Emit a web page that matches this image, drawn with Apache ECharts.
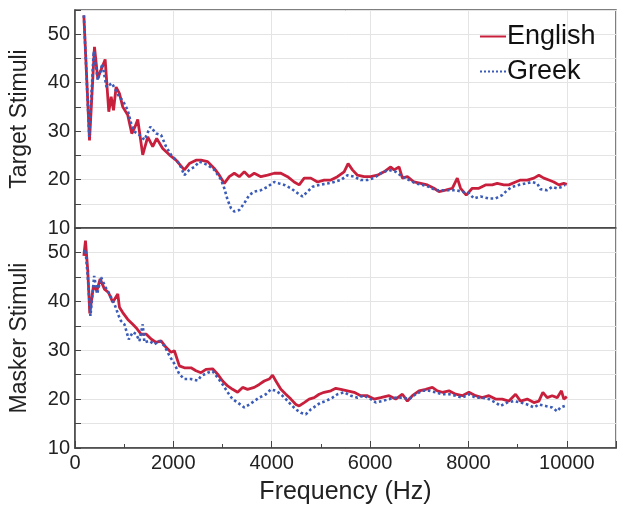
<!DOCTYPE html>
<html>
<head>
<meta charset="utf-8">
<script src="https://cdn.jsdelivr.net/npm/echarts@6/dist/echarts.min.js"></script>
<style>
    html, body { margin: 0; padding: 0; background: #fff; }
    #main { width: 624px; height: 515px; }
</style>
</head>
<body>
<div id="main"></div>
<script>
// [frequency (Hz), value]
var targetEnglish = [[180,53.9],[295,28.1],[396,47.4],[463,40.9],[613,44.8],[687,34.0],[735,37.1],[783,34.3],[836,39.1],[903,37.8],[971,35.0],[1073,33.3],[1154,29.5],[1221,30.9],[1276,32.4],[1377,25.1],[1479,28.8],[1580,26.8],[1661,28.5],[1783,26.4],[1919,25.1],[2054,24.0],[2223,22.0],[2325,23.3],[2460,24.0],[2562,24.0],[2698,23.7],[2832,22.3],[2934,20.9],[3036,19.2],[3137,20.6],[3239,21.3],[3340,20.6],[3442,21.6],[3543,20.6],[3645,21.3],[3780,20.6],[3916,20.9],[4051,21.3],[4186,21.3],[4322,20.6],[4457,19.5],[4558,18.9],[4660,20.3],[4795,20.3],[4931,19.5],[5066,19.9],[5202,19.9],[5336,20.6],[5472,21.6],[5553,23.3],[5641,22.0],[5743,20.9],[5878,20.6],[6013,20.6],[6149,20.9],[6284,21.6],[6420,22.6],[6487,22.0],[6589,22.6],[6657,20.3],[6758,20.6],[6893,19.5],[7029,19.2],[7164,18.9],[7299,18.2],[7401,17.5],[7536,17.8],[7672,18.2],[7773,20.3],[7840,18.2],[7955,16.8],[8077,18.2],[8212,18.2],[8348,18.9],[8483,18.9],[8585,19.2],[8720,18.9],[8822,18.9],[8958,19.5],[9059,19.9],[9195,19.9],[9330,20.3],[9432,20.9],[9533,20.3],[9635,19.9],[9736,19.5],[9838,18.9],[9939,19.2],[10000,19.0]];
var targetGreek = [[180,53.9],[290,28.8],[380,46.5],[463,40.5],[555,43.9],[640,39.1],[750,39.9],[903,37.0],[971,36.3],[1073,34.3],[1140,31.6],[1208,29.9],[1310,29.2],[1411,28.2],[1533,30.9],[1650,29.5],[1750,29.2],[1852,26.8],[1953,25.1],[2122,23.3],[2223,20.9],[2325,22.0],[2427,22.6],[2528,23.7],[2698,23.0],[2832,22.0],[2968,20.0],[3036,18.2],[3103,15.8],[3170,14.1],[3239,13.4],[3340,13.7],[3442,15.1],[3543,16.8],[3645,17.5],[3780,17.8],[3916,18.5],[4051,19.5],[4152,19.2],[4254,18.9],[4389,18.2],[4525,17.2],[4626,16.5],[4727,17.5],[4829,18.5],[4964,18.9],[5134,19.2],[5270,19.5],[5405,19.9],[5540,20.9],[5675,20.6],[5810,19.9],[5946,19.9],[6081,20.3],[6216,21.3],[6386,22.0],[6521,21.6],[6657,20.6],[6792,19.9],[6928,19.2],[7063,18.9],[7198,18.5],[7333,17.8],[7469,17.8],[7604,17.8],[7740,17.8],[7875,17.5],[8010,17.2],[8111,16.1],[8246,16.5],[8416,16.1],[8551,16.1],[8687,16.8],[8788,17.8],[8890,18.5],[9025,18.9],[9161,19.2],[9296,19.5],[9398,19.2],[9465,18.0],[9601,17.8],[9702,18.5],[9804,18.2],[9905,18.5],[9959,18.9]];
var maskerEnglish = [[180,49.3],[213,52.4],[260,46.3],[300,37.5],[376,43.2],[446,42.2],[511,44.6],[599,42.5],[681,41.8],[768,39.8],[870,41.5],[903,38.8],[971,37.7],[1073,36.3],[1174,35.3],[1242,34.6],[1343,33.3],[1445,33.3],[1547,32.3],[1648,31.6],[1750,31.9],[1851,30.6],[1953,29.6],[2021,29.9],[2122,26.8],[2223,26.4],[2359,26.4],[2460,25.8],[2562,25.4],[2663,26.1],[2798,26.2],[2900,25.1],[3002,23.7],[3103,22.7],[3204,22.0],[3306,21.4],[3408,22.4],[3509,22.0],[3645,22.4],[3746,23.0],[3848,23.7],[3949,24.1],[4017,24.9],[4084,23.7],[4186,22.0],[4287,21.0],[4389,20.0],[4491,18.9],[4558,18.6],[4660,19.3],[4761,20.0],[4863,20.3],[4964,21.0],[5066,21.4],[5202,21.7],[5303,22.2],[5405,22.0],[5540,21.7],[5675,21.4],[5810,20.7],[5946,20.7],[6081,20.0],[6216,20.3],[6386,20.7],[6521,20.0],[6657,21.0],[6758,19.6],[6860,20.7],[6996,21.7],[7131,22.0],[7266,22.4],[7367,21.7],[7469,21.4],[7604,21.7],[7740,21.0],[7875,20.7],[8010,21.4],[8145,20.7],[8281,20.3],[8416,20.7],[8551,20.0],[8687,20.0],[8822,19.6],[8958,21.0],[9059,19.6],[9195,20.0],[9330,19.3],[9432,19.6],[9513,21.4],[9601,20.3],[9702,20.7],[9804,20.3],[9891,21.7],[9939,20.0],[10000,20.5]];
var maskerGreek = [[180,50.0],[213,50.6],[260,44.9],[314,37.0],[390,45.2],[450,41.5],[530,44.9],[620,42.9],[700,41.5],[800,39.5],[890,37.0],[935,36.0],[1005,35.3],[1093,32.2],[1174,33.7],[1242,33.3],[1310,31.9],[1377,35.3],[1411,31.6],[1512,31.9],[1614,31.2],[1716,31.9],[1817,30.9],[1919,28.9],[2021,27.2],[2122,25.1],[2223,24.1],[2359,24.1],[2494,23.8],[2562,24.7],[2698,25.4],[2798,25.7],[2900,24.4],[3002,23.0],[3103,21.4],[3204,20.0],[3306,19.3],[3442,18.3],[3543,18.9],[3645,19.6],[3746,20.3],[3882,21.0],[3983,22.0],[4084,21.7],[4186,21.0],[4287,20.0],[4389,18.9],[4491,17.9],[4592,17.2],[4694,16.9],[4795,17.9],[4897,18.6],[4998,19.3],[5100,19.6],[5235,20.3],[5337,21.0],[5472,21.4],[5608,20.7],[5743,20.3],[5878,20.7],[6013,20.0],[6115,19.3],[6250,19.6],[6386,20.0],[6521,20.3],[6657,20.3],[6792,20.0],[6928,21.0],[7063,21.7],[7198,21.7],[7333,21.4],[7469,21.0],[7604,21.0],[7740,20.7],[7875,20.3],[8010,21.0],[8145,20.3],[8281,20.3],[8416,20.0],[8551,19.3],[8653,18.6],[8788,19.3],[8924,19.6],[9059,19.3],[9195,18.9],[9330,18.3],[9432,18.9],[9567,18.6],[9702,18.3],[9804,17.5],[9871,18.3],[9959,18.6]];

var panelNames = ['Target Stimuli', 'Masker Stimuli'];
var xMin = 0, xMax = 11000, xStep = 2000;
var yMin = 10, yMax = 55, yStep = 5;

var red = '#c8203c';
var blue = '#3a5cb8';
var font = 'Liberation Sans, Arial, sans-serif';

var chart = echarts.init(document.getElementById('main'));

function xAxisFor(idx, showLabels) {
    return {
        type: 'value',
        gridIndex: idx,
        min: xMin,
        max: xMax,
        interval: xStep,
        name: showLabels ? 'Frequency (Hz)' : '',
        nameLocation: 'middle',
        nameGap: 32,
        nameTextStyle: { fontSize: 25, color: '#222', fontFamily: font },
        axisLine: { lineStyle: { color: '#444', width: 1.5 } },
        axisTick: { show: showLabels, inside: true, length: 7, lineStyle: { color: '#444' } },
        minorTick: { show: showLabels, splitNumber: 2, length: 4, lineStyle: { color: '#444' } },
        axisLabel: {
            show: showLabels, fontSize: 20, color: '#222', fontFamily: font, margin: 5,
            formatter: function (v) { return v > 10000 ? '' : String(v); }
        },
        splitLine: { show: true, lineStyle: { color: '#e4e4e4', width: 1 } }
    };
}

function yAxisFor(idx) {
    return {
        type: 'value',
        gridIndex: idx,
        min: yMin,
        max: yMax,
        interval: yStep,
        name: panelNames[idx],
        nameLocation: 'middle',
        nameGap: 44,
        nameTextStyle: { fontSize: 23, color: '#222', fontFamily: font },
        axisLine: { show: true, lineStyle: { color: '#444', width: 1.5 } },
        axisTick: { inside: true, length: 6, lineStyle: { color: '#444' } },
        axisLabel: {
            fontSize: 20, color: '#222', fontFamily: font, margin: 5,
            formatter: function (v) { return v % 10 === 0 ? String(v) : ''; }
        },
        splitLine: { show: true, lineStyle: { color: '#e4e4e4', width: 1 } }
    };
}

function lineSeries(name, data, idx, color, dotted) {
    return {
        name: name,
        type: 'line',
        xAxisIndex: idx,
        yAxisIndex: idx,
        data: data,
        symbol: 'none',
        showSymbol: false,
        smooth: false,
        lineStyle: { color: color, width: dotted ? 2.6 : 2.8, type: dotted ? 'dotted' : 'solid' },
        itemStyle: { color: color },
        z: dotted ? 3 : 2
    };
}

var option = {
    animation: false,
    backgroundColor: '#fff',
    legend: {
        data: ['English', 'Greek'],
        orient: 'vertical',
        left: 474,
        top: 18,
        itemWidth: 26,
        itemHeight: 14,
        itemGap: 8,
        itemStyle: { opacity: 0 },
        textStyle: { fontSize: 27, color: '#111', fontFamily: font, padding: [0, 0, 0, -4] }
    },
    grid: [
        { left: 75, top: 10, width: 541, height: 218, show: true, borderColor: '#555', borderWidth: 1.5 },
        { left: 75, top: 228, width: 541, height: 220, show: true, borderColor: '#555', borderWidth: 1.5 }
    ],
    xAxis: [xAxisFor(0, false), xAxisFor(1, true)],
    yAxis: [yAxisFor(0), yAxisFor(1)],
    series: [
        lineSeries('English', targetEnglish, 0, red, false),
        lineSeries('Greek', targetGreek, 0, blue, true),
        lineSeries('English', maskerEnglish, 1, red, false),
        lineSeries('Greek', maskerGreek, 1, blue, true)
    ]
};

chart.setOption(option);
</script>
</body>
</html>
